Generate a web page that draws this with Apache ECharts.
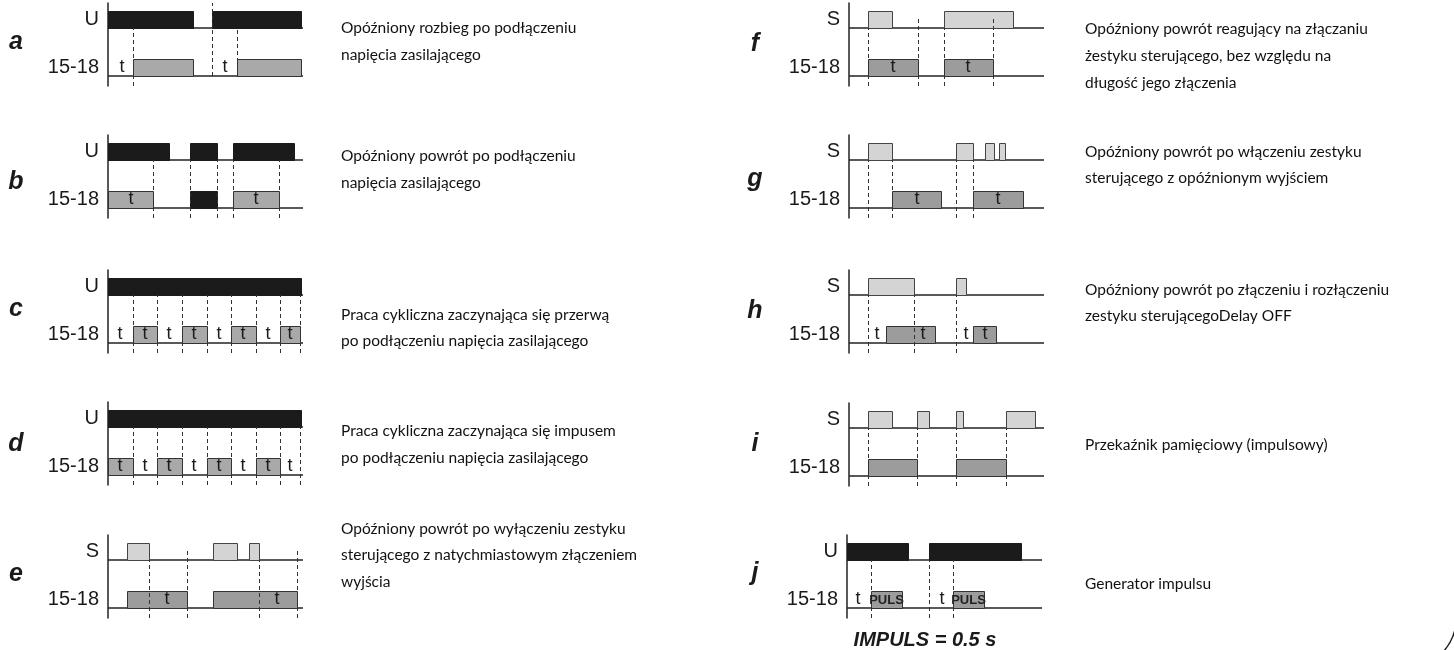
<!DOCTYPE html>
<html><head><meta charset="utf-8">
<script src="https://cdn.jsdelivr.net/npm/echarts@6/dist/echarts.min.js"></script>
<style>html,body{margin:0;padding:0;background:#fff}#c{width:1454px;height:650px}</style>
</head><body><div id="c"></div>
<script>
// ================= DATA (time along each panel in units 0..195) =================
const panelIds   = ['a','b','c','d','e','f','g','h','i','j'];
const inputNames = ['U','U','U','U','S','S','S','S','S','U'];
const outputName = '15-18';

// dash kinds: 'down' = input baseline -> bottom, 'top' = top -> output baseline,
// 'mid' = input baseline -> output baseline, 'tall' = above input baseline -> bottom
const aInput  = [[0,85],[104,193]];
const aOutput = [[25,85],[129,193]];
const aDash   = [[25,'down'],[104,'top'],[129,'mid']];
const aT      = [14,117];

const bInput  = [[0,61],[82,109],[125,186]];
const bOutput = [[0,45],[125,171]];
const bOutputDirect = [[82,109]];
const bDash   = [[45,'down'],[82,'down'],[109,'down'],[125,'down'],[171,'down']];
const bT      = [23,148];

const cInput  = [[0,193]];
const cOutput = [[25,49],[74,99],[123,148],[172,192]];
const cDash   = [[25,'down'],[49,'down'],[74,'down'],[99,'down'],[123,'down'],[148,'down'],[172,'down'],[192,'down']];
const cT      = [12,37,61,86,111,135,160,182];

const dInput  = [[0,193]];
const dOutput = [[0,25],[49,74],[99,123],[148,172]];
const dDash   = [[25,'down'],[49,'down'],[74,'down'],[99,'down'],[123,'down'],[148,'down'],[172,'down'],[192,'down']];
const dT      = [12,37,61,86,111,135,160,182];

const eInput  = [[19,41],[105,129],[141,151]];
const eOutput = [[19,79],[105,189]];
const eDash   = [[41,'down'],[79,'tall'],[151,'down'],[189,'tall']];
const eT      = [59,169];

const fInput  = [[19,43],[95,164]];
const fOutput = [[19,69],[95,144]];
const fDash   = [[19,'down'],[69,'tall'],[95,'down'],[144,'tall']];
const fT      = [44,119];

const gInput  = [[19,43],[107,124],[136,145],[150,156]];
const gOutput = [[43,92],[124,174]];
const gDash   = [[19,'down'],[43,'down'],[107,'down'],[124,'down']];
const gT      = [68,149];

const hInput  = [[19,65],[107,117]];
const hOutput = [[37,86],[124,147]];
const hDash   = [[19,'down'],[65,'down'],[107,'down']];
const hT      = [28,74,117,136];

const iInput  = [[19,43],[68,80],[107,114],[157,186]];
const iOutput = [[19,68],[107,157]];
const iDash   = [[19,'down'],[68,'down'],[107,'down'],[157,'down']];
const iT      = [];

const jInput  = [[0,61],[82,174]];
const jOutput = [[24,55],[106,137]];
const jPulseText = 'PULS';
const jDash   = [[24,'down'],[82,'down'],[106,'down']];
const jT      = [11,95];
const jNote   = 'IMPULS = 0.5 s';

const descriptions = [
  ['Opóźniony rozbieg po podłączeniu','napięcia zasilającego'],
  ['Opóźniony powrót po podłączeniu','napięcia zasilającego'],
  ['Praca cykliczna zaczynająca się przerwą','po podłączeniu napięcia zasilającego'],
  ['Praca cykliczna zaczynająca się impusem','po podłączeniu napięcia zasilającego'],
  ['Opóźniony powrót po wyłączeniu zestyku','sterującego z natychmiastowym złączeniem','wyjścia'],
  ['Opóźniony powrót reagujący na złączaniu','żestyku sterującego, bez względu na','długość jego złączenia'],
  ['Opóźniony powrót po włączeniu zestyku','sterującego z opóźnionym wyjściem'],
  ['Opóźniony powrót po złączeniu i rozłączeniu','zestyku sterującegoDelay OFF'],
  ['Przekaźnik pamięciowy (impulsowy)'],
  ['Generator impulsu']
];

const panels = [
  {input:aInput, output:aOutput, dash:aDash, t:aT},
  {input:bInput, output:bOutput, direct:bOutputDirect, dash:bDash, t:bT},
  {input:cInput, output:cOutput, dash:cDash, t:cT},
  {input:dInput, output:dOutput, dash:dDash, t:dT},
  {input:eInput, output:eOutput, dash:eDash, t:eT},
  {input:fInput, output:fOutput, dash:fDash, t:fT},
  {input:gInput, output:gOutput, dash:gDash, t:gT},
  {input:hInput, output:hOutput, dash:hDash, t:hT},
  {input:iInput, output:iOutput, dash:iDash, t:iT},
  {input:jInput, output:jOutput, dash:jDash, t:jT, pulseText:jPulseText}
];

// ================= LAYOUT / STYLE =================
const SPAN = 195;
const Y = {max:83, inBase:58, inTop:75, outBase:10, outTop:27, tallTop:67};
const layout = [
  {left:108, top:3,   letterY:42,  descX:341, descY:[28,55]},
  {left:108, top:135, letterY:182, descX:341, descY:[156,183]},
  {left:108, top:270, letterY:309, descX:341, descY:[315,341]},
  {left:108, top:402, letterY:444, descX:341, descY:[431,458]},
  {left:108, top:535, letterY:574, descX:341, descY:[529,555,582]},
  {left:849, top:3,   letterY:44,  descX:1085, descY:[29,56,83]},
  {left:849, top:135, letterY:179, descX:1085, descY:[152,178]},
  {left:849, top:270, letterY:311, descX:1085, descY:[290,316]},
  {left:849, top:403, letterY:444, descX:1085, descY:[445]},
  {left:847, top:535, letterY:573, descX:1085, descY:[584]}
];
const dashY = {down:[0,Y.inBase], top:[Y.outBase,Y.max], mid:[Y.outBase,Y.inBase], tall:[0,Y.tallTop]};
const SANS = '"Liberation Sans", Arial, sans-serif';
const DESC_FONT = '15.5px Lato, "Open Sans", sans-serif';

function T(x, y, text, font, align, fill) {
  return {type:'text', x:x, y:y, silent:true,
    style:{text:text, font:font, fill:fill||'#222',
      align:align, verticalAlign:'middle', textAlign:align, textVerticalAlign:'middle'}};
}

function rectSeries(k, data, y0, y1, style, z) {
  return {type:'custom', xAxisIndex:k, yAxisIndex:k, z:z, silent:true, animation:false,
    data:data.map(d=>[d[0], d[1]]),
    renderItem:function(params, api){
      const a = api.coord([api.value(0), y0]);
      const b = api.coord([api.value(1), y1]);
      return {type:'rect', shape:{x:Math.round(a[0])+0.5, y:Math.round(b[1])+0.5,
        width:Math.round(b[0]-a[0]), height:Math.round(a[1]-b[1])}, style:Object.assign({}, style)};
    }};
}

const grid=[], xAxis=[], yAxis=[], series=[], graphic=[];
panels.forEach((p,k)=>{
  const L = layout[k];
  grid.push({left:L.left, top:L.top, width:SPAN, height:Y.max});
  xAxis.push({gridIndex:k, type:'value', min:0, max:SPAN, show:false});
  yAxis.push({gridIndex:k, type:'value', min:0, max:Y.max,
    axisLine:{show:true, onZero:false, lineStyle:{color:'#222', width:1.5}},
    axisTick:{show:false}, axisLabel:{show:false}, splitLine:{show:false}});

  // baselines
  series.push({type:'custom', xAxisIndex:k, yAxisIndex:k, z:1, silent:true, animation:false,
    data:[[0,SPAN,Y.inBase],[0,SPAN,Y.outBase]],
    renderItem:function(params, api){
      const a = api.coord([api.value(0), api.value(2)]);
      const b = api.coord([api.value(1), api.value(2)]);
      return {type:'line', shape:{x1:a[0], y1:a[1], x2:b[0], y2:b[1]}, style:{stroke:'#222', lineWidth:1.5}};
    }});

  const isU = inputNames[k] === 'U';
  series.push(rectSeries(k, p.input, Y.inBase, Y.inTop,
    isU ? {fill:'#1b1b1b', stroke:'#1b1b1b', lineWidth:1} : {fill:'#d4d4d4', stroke:'#444', lineWidth:1}, 2));
  series.push(rectSeries(k, p.output, Y.outBase, Y.outTop,
    {fill: k < 4 ? '#a9a9a9' : '#9c9c9c', stroke:'#333', lineWidth:1}, 2));
  if (p.direct) series.push(rectSeries(k, p.direct, Y.outBase, Y.outTop, {fill:'#1b1b1b', stroke:'#1b1b1b', lineWidth:1}, 2));

  // dashed guide lines
  series.push({type:'custom', xAxisIndex:k, yAxisIndex:k, z:3, silent:true, animation:false,
    data:p.dash.map(d=>[d[0], dashY[d[1]][0], dashY[d[1]][1]]),
    renderItem:function(params, api){
      const a = api.coord([api.value(0), api.value(1)]);
      const b = api.coord([api.value(0), api.value(2)]);
      const x = Math.round(a[0])+0.5;
      return {type:'line', shape:{x1:x, y1:a[1], x2:x, y2:b[1]}, style:{stroke:'#333', lineWidth:1, lineDash:[4,3]}};
    }});

  // "t" labels
  if (p.t.length) series.push({type:'custom', xAxisIndex:k, yAxisIndex:k, z:4, silent:true, animation:false,
    data:p.t.map(x=>[x]),
    renderItem:function(params, api){
      const c = api.coord([api.value(0), (Y.outBase+Y.outTop)/2]);
      return {type:'text', x:c[0], y:c[1], style:{text:'t', font:'18px '+SANS, fill:'#1a1a1a',
        align:'center', verticalAlign:'middle', textAlign:'center', textVerticalAlign:'middle'}};
    }});

  // pulse text inside output bars
  if (p.pulseText) series.push({type:'custom', xAxisIndex:k, yAxisIndex:k, z:4, silent:true, animation:false,
    data:p.output.map(d=>[(d[0]+d[1])/2]),
    renderItem:function(params, api){
      const c = api.coord([api.value(0), (Y.outBase+Y.outTop)/2]);
      return {type:'text', x:c[0], y:c[1]+0.5, style:{text:p.pulseText,
        font:'bold 13px "Liberation Sans Narrow", "Liberation Sans", Arial, sans-serif', fill:'#222',
        align:'center', verticalAlign:'middle', textAlign:'center', textVerticalAlign:'middle'}};
    }});

  // texts
  const letterX = L.left < 500 ? 16 : 755;
  graphic.push(T(letterX, L.letterY, panelIds[k], 'italic bold 25px '+SANS, 'center', '#1a1a1a'));
  graphic.push(T(L.left-9, L.top + (Y.max - (Y.inBase+Y.inTop)/2), inputNames[k], '20px '+SANS, 'right', '#1a1a1a'));
  graphic.push(T(L.left-9, L.top + (Y.max - (Y.outBase+Y.outTop)/2), outputName, '20px '+SANS, 'right', '#1a1a1a'));
  descriptions[k].forEach((line,i)=>graphic.push(T(L.descX, L.descY[i], line, DESC_FONT, 'left', '#111')));
});
graphic.push(T(925, 640, jNote, 'italic bold 20px '+SANS, 'center', '#1a1a1a'));
graphic.push({type:'bezierCurve', silent:true,
  shape:{x1:1456, y1:624, cpx1:1454, cpy1:640, x2:1443, y2:652},
  style:{stroke:'#222', lineWidth:1.5, fill:null}});

const chart = echarts.init(document.getElementById('c'), null, {renderer:'canvas', width:1454, height:650});
chart.setOption({animation:false, backgroundColor:'#fff', grid, xAxis, yAxis, series, graphic});
</script>
</body></html>
